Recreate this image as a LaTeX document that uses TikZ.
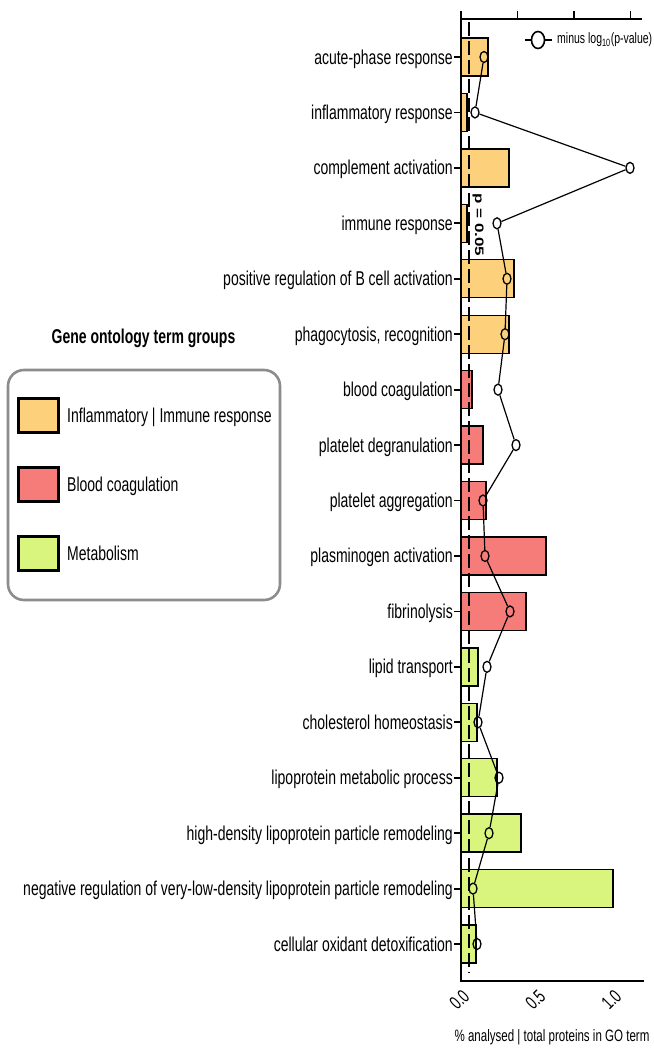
\documentclass[tikz,border=0pt]{standalone}
\usepackage{fontspec}
\setmainfont{Liberation Sans}[FakeStretch=0.7]
\newfontfamily\plainfont{Liberation Sans}
\usetikzlibrary{shapes.geometric}
\definecolor{colInf}{HTML}{FDD17C}
\definecolor{colBld}{HTML}{F67C7A}
\definecolor{colMet}{HTML}{DAF57E}
\definecolor{legGray}{HTML}{8C8C8C}
\tikzset{
  gi/.style={fill=colInf},
  gb/.style={fill=colBld},
  gm/.style={fill=colMet},
  barline/.style={draw=black, line width=1.4pt},
  axisline/.style={line width=1.8pt, line cap=rect},
  rowlabel/.style={anchor=base east, inner sep=0pt, font=\fontsize{20}{24}\selectfont},
  pcirc/.style={ellipse, draw=black, line width=1.3pt, minimum width=8pt, minimum height=11pt, inner sep=0pt},
  pline/.style={line width=1.2pt},
  swatch/.style={draw=black, line width=3pt, minimum width=40pt, minimum height=34pt, inner sep=0pt},
  legtext/.style={anchor=base west, inner sep=0pt, font=\fontsize{20}{24}\selectfont},
  ticklab/.style={anchor=east, inner sep=0pt, rotate=45, font=\fontsize{19}{21}\selectfont},
  cutoff/.style={line width=2.8pt, dash pattern=on 14pt off 5pt}
}
\begin{document}
\begin{tikzpicture}[x=1pt,y=1pt]
\useasboundingbox (0,0) rectangle (653,-1057);
% bars, row ticks, labels, p-value points
\foreach \i/\lab/\bx/\cx/\grp in {
1/acute-phase response/488/484/gi,
2/inflammatory response/467/475/gi,
3/complement activation/509/630/gi,
4/immune response/467/497/gi,
5/positive regulation of B cell activation/514/507/gi,
6/{phagocytosis, recognition}/509/505/gi,
7/blood coagulation/472/498/gb,
8/platelet degranulation/483/516/gb,
9/platelet aggregation/486/483/gb,
10/plasminogen activation/546/485/gb,
11/fibrinolysis/526/510/gb,
12/lipid transport/478/487/gm,
13/cholesterol homeostasis/477/478/gm,
14/lipoprotein metabolic process/497/499/gm,
15/high-density lipoprotein particle remodeling/521/489/gm,
16/negative regulation of very-low-density lipoprotein particle remodeling/613/473/gm,
17/cellular oxidant detoxification/476/477/gm}
{
  \pgfmathsetmacro\yy{-(57+55.44*(\i-1))}
  \draw[barline,\grp] (461,\yy+19) rectangle (\bx,\yy-19);
  \draw[axisline] (455,\yy) -- (461,\yy);
  \node[rowlabel] (l\i) at (453,\yy-7) {\lab};
  \node[pcirc] (c\i) at (\cx,\yy) {};
}
% axes
\draw[axisline] (461,-19) -- (641,-19);
\foreach \tx in {461,517.5,574,630.5} \draw[axisline] (\tx,-19) -- (\tx,-12);
\draw[axisline] (461,-19) -- (461,-981) -- (643,-981);
% x tick labels
\node[ticklab] (t0) at (466,-993) {0.0};
\node[ticklab] (t1) at (542,-993) {0.5};
\node[ticklab] (t2) at (618,-993) {1.0};
\node[inner sep=0pt, font=\fontsize{16.5}{18}\selectfont] (xtitle) at (552,-1037) {\% analysed | total proteins in GO term};
% cutoff line
\draw[cutoff] (469,-22) -- (469,-973);
\node[rotate=-90, inner sep=0pt] (pcut) at (478,-225) {\scalebox{1}[0.72]{\plainfont\bfseries\fontsize{17}{19}\selectfont p = 0.05}};
% p-value polyline
\draw[pline] (c1) -- (c2) -- (c3) -- (c4) -- (c5) -- (c6) -- (c7) -- (c8) -- (c9) -- (c10) -- (c11) -- (c12) -- (c13) -- (c14) -- (c15) -- (c16) -- (c17);
% top-right legend
\node[ellipse, draw=black, line width=1.6pt, minimum width=13pt, minimum height=17pt, inner sep=0pt] (lsym) at (538,-40) {};
\coordinate (lsymL) at (525,-40);
\coordinate (lsymR) at (552,-40);
\draw[line width=1.6pt] (lsymL) -- (lsym.west);
\draw[line width=1.6pt] (lsym.east) -- (lsymR);
\node[anchor=west, inner sep=0pt, font=\fontsize{15}{17}\selectfont] (lsymtext) at (557,-40) {minus log\textsubscript{10}(p-value)};
% group legend
\node[inner sep=0pt, font=\bfseries\fontsize{20}{24}\selectfont] (legtitle) at (143.5,-338) {Gene ontology term groups};
\draw[draw=legGray, line width=2.6pt, rounded corners=16pt] (8,-370) rectangle (280,-600);
\node[swatch, fill=colInf] (s1) at (38,-415) {};
\node[swatch, fill=colBld] (s2) at (38,-484.5) {};
\node[swatch, fill=colMet] (s3) at (38,-553.5) {};
\node[legtext] (lt1) at (67,-422) {Inflammatory | Immune response};
\node[legtext] (lt2) at (67,-491.5) {Blood coagulation};
\node[legtext] (lt3) at (67,-560.5) {Metabolism};
\end{tikzpicture}
\end{document}
